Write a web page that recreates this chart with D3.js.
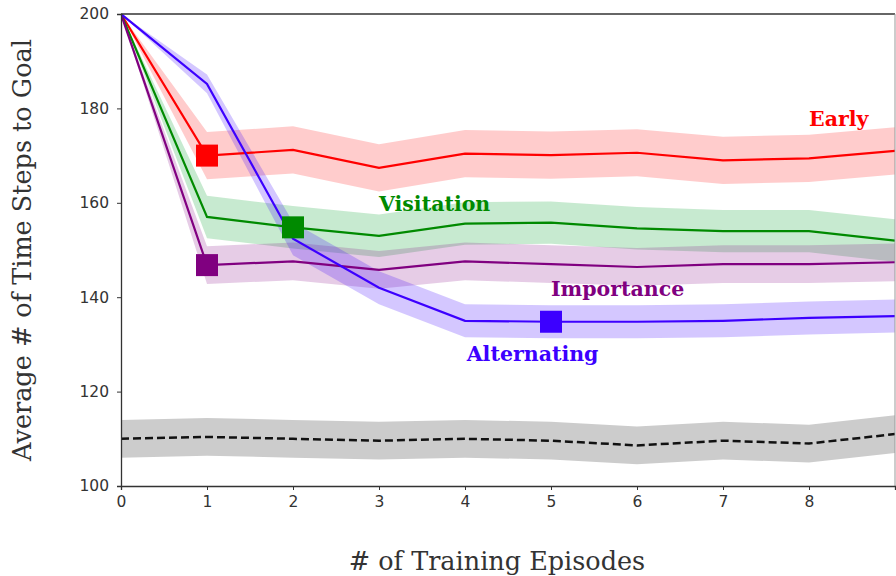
<!DOCTYPE html>
<html>
<head>
<meta charset="utf-8">
<script src="https://cdn.jsdelivr.net/npm/d3@7"></script>
<style>
body { margin: 0; background: #fff; }
svg { display: block; }
</style>
</head>
<body>
<svg id="chart" width="896" height="576"></svg>
<script>
const episodes = [0, 1, 2, 3, 4, 5, 6, 7, 8, 9];
const early       = [200, 170.0, 171.2, 167.4, 170.4, 170.1, 170.6, 169.0, 169.4, 171.0];
const visitation  = [200, 157.0, 154.8, 153.0, 155.6, 155.8, 154.6, 154.0, 154.0, 152.0];
const importance  = [200, 146.8, 147.6, 145.8, 147.6, 147.0, 146.4, 147.0, 147.0, 147.4];
const alternating = [200, 185.2, 152.4, 142.0, 135.0, 134.8, 134.8, 135.0, 135.6, 136.0];
const baseline    = [110.0, 110.4, 110.0, 109.6, 110.0, 109.6, 108.6, 109.6, 109.0, 111.0];
const earlyErr       = [0, 5.0, 5.0, 5.0, 5.0, 5.0, 5.0, 5.0, 5.0, 5.0];
const visitationErr  = [0, 4.5, 4.5, 4.5, 4.5, 4.5, 4.5, 4.5, 4.5, 4.5];
const importanceErr  = [0, 4.0, 4.0, 4.0, 4.0, 4.0, 4.0, 4.0, 4.0, 4.0];
const alternatingErr = [0, 2.0, 3.5, 3.5, 3.5, 3.5, 3.5, 3.5, 3.5, 3.5];
const baselineErr    = [4.0, 4.0, 4.0, 4.0, 4.0, 4.0, 4.0, 4.0, 4.0, 4.0];
const seriesNames = ["Early", "Visitation", "Importance", "Alternating"];
const markerEpisode = [1, 2, 1, 5];
const labelX = [8.0, 3.0, 5.0, 4.02];
const labelY = [176.3, 158.3, 140.3, 126.5];
const xTicks = [0, 1, 2, 3, 4, 5, 6, 7, 8];
const yTicks = [100, 120, 140, 160, 180, 200];

const colors = ["#ff0000", "#008a00", "#800080", "#3c00ff"];
const bandColors = ["rgba(255,0,0,0.2)", "rgba(0,160,40,0.22)", "rgba(128,0,128,0.2)", "rgba(60,0,255,0.22)"];

const seriesData = [early, visitation, importance, alternating];
const seriesErr = [earlyErr, visitationErr, importanceErr, alternatingErr];

const svg = d3.select("#chart");
const mLeft = 121, mRight = 895, mTop = 14, mBottom = 486;

const x = d3.scaleLinear().domain([0, 9]).range([mLeft, mRight]);
const y = d3.scaleLinear().domain([100, 200]).range([mBottom, mTop]);

svg.append("defs").append("clipPath").attr("id", "clip")
  .append("rect").attr("x", mLeft).attr("y", mTop).attr("width", mRight - mLeft).attr("height", mBottom - mTop);

const plot = svg.append("g").attr("clip-path", "url(#clip)");

const area = (vals, errs) => d3.area()
  .x((d, i) => x(episodes[i]))
  .y0((d, i) => y(vals[i] - errs[i]))
  .y1((d, i) => y(vals[i] + errs[i]))(vals);
const line = d3.line().x((d, i) => x(episodes[i])).y(d => y(d));

plot.append("path").attr("d", area(baseline, baselineErr)).attr("fill", "rgba(0,0,0,0.2)");

seriesData.forEach((vals, k) => {
  plot.append("path").attr("d", area(vals, seriesErr[k])).attr("fill", bandColors[k]);
});

plot.append("path").attr("d", line(baseline)).attr("fill", "none")
  .attr("stroke", "#111").attr("stroke-width", 2.5).attr("stroke-dasharray", "8,4");

seriesData.forEach((vals, k) => {
  plot.append("path").attr("d", line(vals)).attr("fill", "none")
    .attr("stroke", colors[k]).attr("stroke-width", 2.2);
});

seriesData.forEach((vals, k) => {
  const e = markerEpisode[k];
  const s = 22;
  plot.append("rect")
    .attr("x", x(e) - s / 2).attr("y", y(vals[e]) - s / 2)
    .attr("width", s).attr("height", s)
    .attr("fill", colors[k]);
});

seriesNames.forEach((name, k) => {
  svg.append("text")
    .attr("x", x(labelX[k])).attr("y", y(labelY[k]))
    .attr("fill", colors[k])
    .style("font-family", "'DejaVu Serif', serif")
    .style("font-weight", "bold")
    .style("font-size", "20.5px")
    .text(name);
});

svg.append("line").attr("x1", mLeft).attr("x2", mRight).attr("y1", mTop).attr("y2", mTop)
  .attr("stroke", "#333").attr("stroke-width", 1.3);
svg.append("line").attr("x1", mRight).attr("x2", mRight).attr("y1", mTop).attr("y2", mBottom)
  .attr("stroke", "#999").attr("stroke-width", 1);

const xAxis = svg.append("g").attr("transform", `translate(0,${mBottom})`)
  .call(d3.axisBottom(x).tickValues(xTicks).tickFormat(d3.format("d")).tickSize(4).tickPadding(6));
const yAxis = svg.append("g").attr("transform", `translate(${mLeft},0)`)
  .call(d3.axisLeft(y).tickValues(yTicks).tickFormat(d3.format("d")).tickSize(4).tickPadding(8));

[xAxis, yAxis].forEach(g => {
  g.select(".domain").attr("stroke", "#333").attr("stroke-width", 1.3);
  g.selectAll(".tick line").attr("stroke", "#333");
  g.selectAll(".tick text").attr("fill", "#333")
    .style("font-family", "'DejaVu Sans', sans-serif").style("font-size", "15.5px");
});

svg.append("text")
  .attr("transform", `translate(31,250) rotate(-90)`)
  .attr("text-anchor", "middle")
  .attr("fill", "#333")
  .style("font-family", "'DejaVu Serif', serif")
  .style("font-size", "25.5px")
  .text("Average # of Time Steps to Goal");

svg.append("text")
  .attr("x", 497).attr("y", 570)
  .attr("text-anchor", "middle")
  .attr("fill", "#333")
  .style("font-family", "'DejaVu Serif', serif")
  .style("font-size", "25.5px")
  .text("# of Training Episodes");
</script>
</body>
</html>
